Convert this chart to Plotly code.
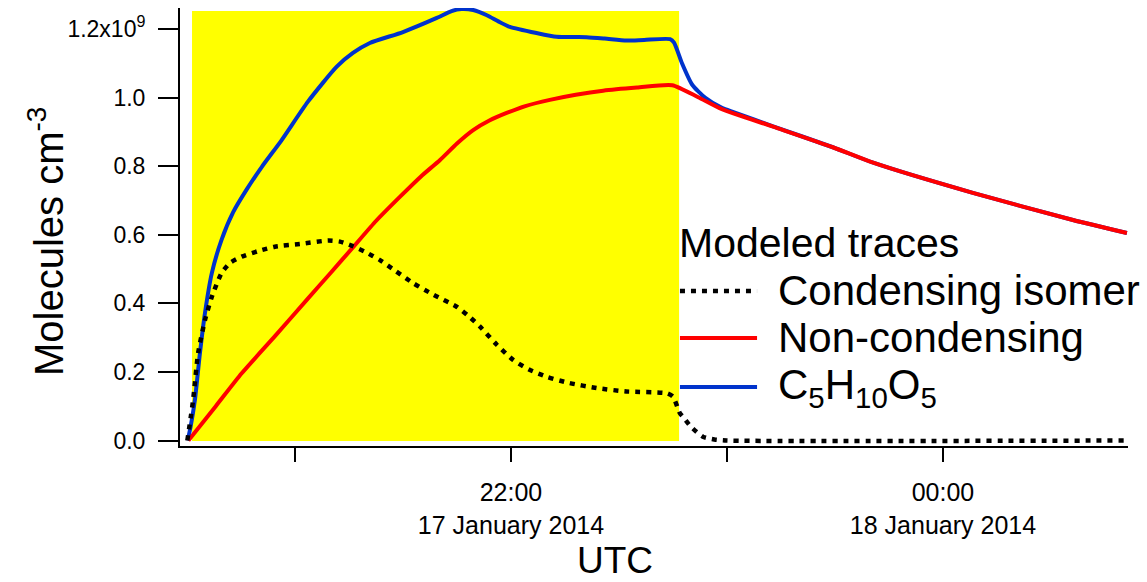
import pandas as pd
import plotly.graph_objects as go

# Model output, concentrations in units of 1e9 molecules cm^-3.
# Times are minutes after 20:00 UTC on 17 January 2014.
start = pd.Timestamp("2014-01-17 20:00:00")

c5h10o5_min = [30.2, 31.0, 32.2, 33.6, 35.0, 36.9, 39.6, 42.8, 46.6, 50.8, 56.3, 63.6,
               71.6, 76.1, 80.8, 90.0, 99.4, 103.5, 106.3, 109.5, 113.3, 116.5, 119.7,
               127.1, 132.7, 141.0, 146.0, 152.1, 157.0, 164.2, 165.3, 167.5, 170.3,
               173.9, 178.6, 182.0, 192.8, 209.4, 220.6, 248.3, 276.1, 291.1]
c5h10o5_val = [0.000, 0.040, 0.118, 0.255, 0.372, 0.488, 0.585, 0.665, 0.732, 0.798, 0.876, 0.988,
               1.090, 1.130, 1.159, 1.191, 1.232, 1.252, 1.258, 1.255, 1.240, 1.222, 1.206,
               1.188, 1.177, 1.176, 1.172, 1.166, 1.168, 1.170, 1.160, 1.100, 1.038,
               1.000, 0.970, 0.957, 0.916, 0.855, 0.810, 0.722, 0.643, 0.605]

noncond_min = [30.4, 38.0, 45.2, 54.5, 63.7, 70.0, 76.1, 82.5, 89.2, 95.0, 100.3, 105.0,
               109.5, 114.0, 118.8, 124.0, 130.8, 138.0, 145.6, 155.0, 164.8, 172.0,
               178.6, 192.8, 209.4, 220.6, 248.3, 276.1, 291.1]
noncond_val = [0.000, 0.100, 0.196, 0.305, 0.415, 0.490, 0.563, 0.640, 0.711, 0.770, 0.818, 0.866,
               0.905, 0.933, 0.955, 0.975, 0.993, 1.008, 1.020, 1.029, 1.036, 1.001,
               0.966, 0.915, 0.855, 0.810, 0.722, 0.643, 0.605]

cond_min = [30.1, 31.7, 33.1, 35.0, 36.9, 39.6, 42.0, 45.2, 50.0, 54.4, 62.0, 69.2, 72.5,
            75.7, 79.5, 83.6, 88.0, 92.8, 98.5, 104.9, 108.0, 111.4, 116.0, 120.6, 125.0,
            129.9, 136.0, 143.8, 152.0, 163.2, 165.0, 166.9, 167.8, 170.0, 173.3, 176.5,
            179.9, 291.1]
cond_val = [0.000, 0.118, 0.255, 0.351, 0.419, 0.488, 0.518, 0.536, 0.553, 0.565, 0.574, 0.583, 0.580,
            0.568, 0.550, 0.526, 0.494, 0.459, 0.425, 0.390, 0.365, 0.332, 0.280, 0.235, 0.207,
            0.186, 0.168, 0.153, 0.143, 0.138, 0.128, 0.080, 0.069, 0.040, 0.011, 0.003,
            0.000, 0.000]

# Period shaded in yellow (minutes after 20:00)
light_on_min = [31.4, 166.7]

x_range_min = [28.06, 291.4]
y_range = [-0.016, 1.261]

tick_times = ["2014-01-17 21:00", "2014-01-17 22:00", "2014-01-17 23:00", "2014-01-18 00:00"]
tick_texts = ["", "22:00<br>17 January 2014", "", "00:00<br>18 January 2014"]
y_ticks = [0.0, 0.2, 0.4, 0.6, 0.8, 1.0, 1.2]
y_tick_texts = ["0.0", "0.2", "0.4", "0.6", "0.8", "1.0", "1.2x10<sup>9</sup>"]

legend_title = "Modeled traces"
names = ["Condensing isomer", "Non-condensing", "C<sub>5</sub>H<sub>10</sub>O<sub>5</sub>"]


def to_time(mins):
    return [start + pd.Timedelta(minutes=m) for m in mins]


FONT = "Liberation Sans, Arial, sans-serif"
BLUE = "#0033cc"
RED = "#ff0000"
BLACK_DASH = "5px,6px"

fig = go.Figure()
fig.add_trace(go.Scatter(x=to_time(c5h10o5_min), y=c5h10o5_val, mode="lines",
                         name="C5H10O5", showlegend=False,
                         line=dict(color=BLUE, width=4, shape="spline", smoothing=0.6)))
fig.add_trace(go.Scatter(x=to_time(noncond_min), y=noncond_val, mode="lines",
                         name="Non-condensing", showlegend=False,
                         line=dict(color=RED, width=4, shape="spline", smoothing=0.6)))
fig.add_trace(go.Scatter(x=to_time(cond_min), y=cond_val, mode="lines",
                         name="Condensing isomer", showlegend=False,
                         line=dict(color="black", width=4.5, dash=BLACK_DASH,
                                   shape="spline", smoothing=0.6)))

on_t = to_time(light_on_min)
fig.add_shape(type="rect", xref="x", yref="y", x0=on_t[0], x1=on_t[1], y0=-0.0015, y1=1.252,
              fillcolor="#ffff00", line=dict(width=0), layer="below")

# Hand-placed legend: sample lines plus labels
legend_x0, legend_x1, text_x = 0.5274, 0.6087, 0.6287
row_y = [0.3539, 0.2466, 0.1347]
styles = [dict(color="black", width=4.5, dash=BLACK_DASH),
          dict(color=RED, width=4),
          dict(color=BLUE, width=4)]
fig.add_annotation(x=0.5243, y=0.4635, xref="paper", yref="paper", text=legend_title,
                   showarrow=False, xanchor="left", yanchor="middle",
                   font=dict(family=FONT, size=41, color="black"))
for ry, nm, st in zip(row_y, names, styles):
    fig.add_shape(type="line", xref="paper", yref="paper", x0=legend_x0, x1=legend_x1,
                  y0=ry, y1=ry, line=st)
    fig.add_annotation(x=text_x, y=ry, xref="paper", yref="paper", text=nm,
                       showarrow=False, xanchor="left", yanchor="middle",
                       font=dict(family=FONT, size=42, color="black"))

# Axis titles
fig.add_annotation(x=-0.1414, y=0.468, xref="paper", yref="paper",
                   text="Molecules cm<sup>-3</sup>", textangle=-90, showarrow=False,
                   xanchor="center", yanchor="middle",
                   font=dict(family=FONT, size=40, color="black"))
fig.add_annotation(x=0.4589, y=-0.262, xref="paper", yref="paper", text="UTC",
                   showarrow=False, xanchor="center", yanchor="middle",
                   font=dict(family=FONT, size=37, color="black"))

xr = to_time(x_range_min)
fig.update_layout(
    width=1147, height=582,
    margin=dict(l=180, r=19, t=8, b=136),
    paper_bgcolor="white", plot_bgcolor="white",
    font=dict(family=FONT, color="black"),
    xaxis=dict(type="date", range=xr, showgrid=False, zeroline=False,
               showline=True, linecolor="black", linewidth=2,
               ticks="outside", ticklen=14, tickwidth=2, tickcolor="black",
               tickvals=pd.to_datetime(tick_times), ticktext=tick_texts,
               tickfont=dict(family=FONT, size=25, color="black"),
               ticklabelstandoff=9),
    yaxis=dict(range=y_range, showgrid=False, zeroline=False,
               showline=True, linecolor="black", linewidth=2,
               ticks="outside", ticklen=20, tickwidth=2, tickcolor="black",
               tickvals=y_ticks, ticktext=y_tick_texts,
               tickfont=dict(family=FONT, size=23, color="black"),
               ticklabelstandoff=8),
)

fig.write_html("out.html")
